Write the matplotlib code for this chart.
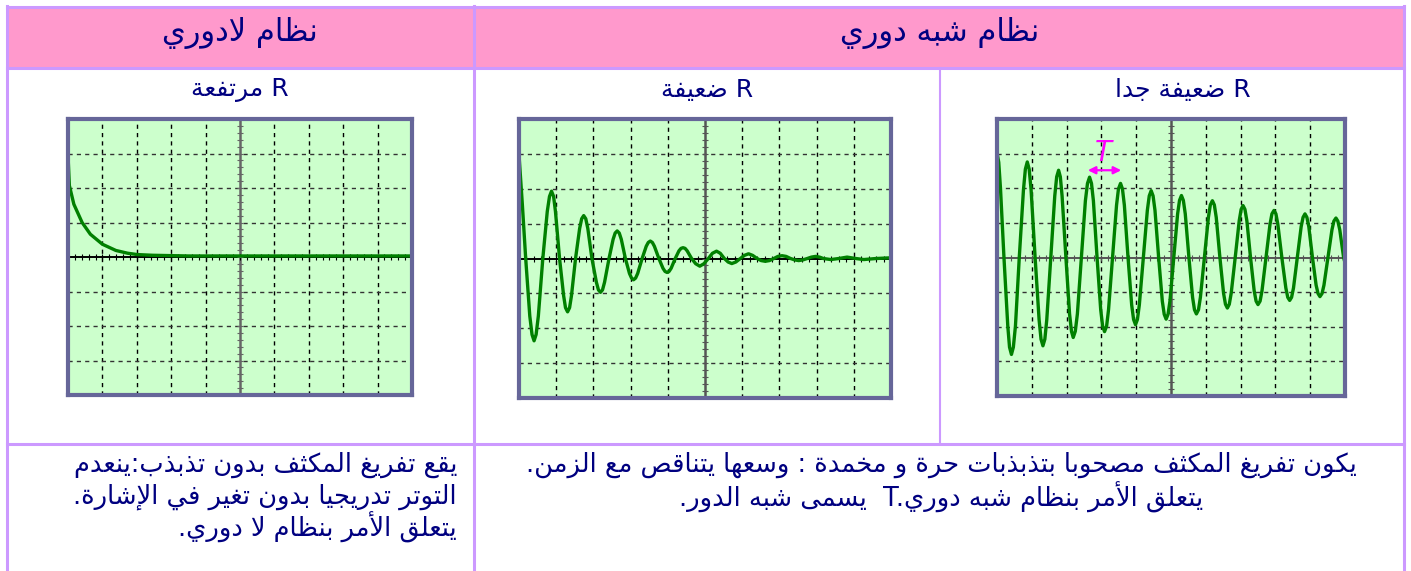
import matplotlib.pyplot as plt

W, H = 1411, 571

# ---- texts (logical order) ----
header_left = 'نظام لادوري'
header_right = 'نظام شبه دوري'
sub_titles = ['R مرتفعة', 'R ضعيفة', 'R ضعيفة جدا']
bottom_left = ['يقع تفريغ المكثف بدون تذبذب:ينعدم',
               'التوتر تدريجيا بدون تغير في الإشارة.',
               'يتعلق الأمر بنظام لا دوري.']
bottom_right = ['يكون تفريغ المكثف مصحوبا بتذبذبات حرة و مخمدة : وسعها يتناقص مع الزمن.',
                'يتعلق الأمر بنظام شبه دوري.T  يسمى شبه الدور.']

# ---- oscilloscope traces (divisions: x 0..10, y -4..4) ----
aperiodic_x = [0.0, 0.005, 0.04, 0.17, 0.41, 0.65, 1.0, 1.39, 1.73, 2.02, 2.46, 3.5, 10.0]
aperiodic_y = [4.0, 2.84, 2.07, 1.53, 1.0, 0.66, 0.37, 0.19, 0.11, 0.07, 0.05, 0.03, 0.03]

weak_x = [0.00, 0.09, 0.18, 0.29, 0.35, 0.405, 0.46, 0.52, 0.64, 0.76, 0.82, 0.874,
          0.93, 0.98, 1.09, 1.20, 1.25, 1.306, 1.36, 1.41, 1.52, 1.63, 1.685, 1.739,
          1.795, 1.85, 1.96, 2.08, 2.135, 2.19, 2.245, 2.30, 2.42, 2.53, 2.585, 2.64,
          2.695, 2.75, 2.86, 2.97, 3.025, 3.08, 3.135, 3.19, 3.31, 3.42, 3.475, 3.53,
          3.585, 3.64, 3.76, 3.87, 3.925, 3.98, 4.035, 4.09, 4.20, 4.30, 4.355, 4.41,
          4.465, 4.52, 4.64, 4.75, 4.86, 4.97, 5.09, 5.20, 5.31, 5.41, 5.52, 5.62,
          5.72, 5.83, 5.95, 6.06, 6.17, 6.28, 6.40, 6.51, 6.62, 6.73, 6.85, 6.96,
          7.07, 7.18, 7.30, 7.41, 7.52, 7.63, 7.75, 7.86, 7.97, 8.08, 8.18, 8.38,
          8.60, 8.82, 9.05, 9.27, 9.60, 10.0]
weak_y = [2.97, 1.55, 0.00, -1.65, -2.18, -2.36, -2.18, -1.65, 0.00, 1.35, 1.78, 1.93,
          1.78, 1.35, 0.00, -1.07, -1.41, -1.53, -1.41, -1.07, 0.00, 0.86, 1.14, 1.23,
          1.14, 0.86, 0.00, -0.68, -0.90, -0.97, -0.90, -0.68, 0.00, 0.55, 0.73, 0.79,
          0.73, 0.55, 0.00, -0.43, -0.56, -0.61, -0.56, -0.43, 0.00, 0.35, 0.46, 0.50,
          0.46, 0.35, 0.00, -0.28, -0.37, -0.40, -0.37, -0.28, 0.00, 0.22, 0.29, 0.31,
          0.29, 0.22, 0.00, -0.15, -0.22, -0.15, 0.00, 0.15, 0.21, 0.15, 0.00, -0.10,
          -0.145, -0.10, 0.00, 0.09, 0.135, 0.09, 0.00, -0.06, -0.08, -0.06, 0.00, 0.06,
          0.08, 0.06, 0.00, -0.04, -0.06, -0.04, 0.00, 0.04, 0.06, 0.04, 0.00, -0.03,
          0.00, 0.04, 0.00, -0.03, 0.00, 0.02]

very_weak_x = [0.00, 0.05, 0.10, 0.20, 0.31, 0.36, 0.415, 0.47, 0.53, 0.64, 0.76, 0.815,
               0.87, 0.925, 0.98, 1.095, 1.21, 1.265, 1.32, 1.375, 1.43, 1.545, 1.66, 1.715,
               1.77, 1.82, 1.87, 1.98, 2.085, 2.14, 2.19, 2.25, 2.31, 2.425, 2.54, 2.60,
               2.66, 2.715, 2.77, 2.875, 2.98, 3.035, 3.09, 3.15, 3.205, 3.32, 3.435, 3.49,
               3.55, 3.605, 3.66, 3.765, 3.87, 3.925, 3.98, 4.035, 4.09, 4.205, 4.32, 4.375,
               4.43, 4.485, 4.54, 4.645, 4.75, 4.805, 4.86, 4.915, 4.97, 5.08, 5.19, 5.245,
               5.30, 5.355, 5.41, 5.515, 5.62, 5.675, 5.73, 5.79, 5.845, 5.96, 6.075, 6.13,
               6.19, 6.245, 6.30, 6.405, 6.51, 6.565, 6.62, 6.675, 6.73, 6.845, 6.96, 7.015,
               7.07, 7.125, 7.18, 7.285, 7.39, 7.445, 7.50, 7.56, 7.615, 7.73, 7.845, 7.90,
               7.96, 8.015, 8.07, 8.185, 8.30, 8.355, 8.41, 8.465, 8.52, 8.63, 8.74, 8.795,
               8.85, 8.905, 8.96, 9.065, 9.17, 9.225, 9.28, 9.34, 9.395, 9.51, 9.625, 9.68,
               9.74, 9.795, 9.85, 9.96, 10.0]
very_weak_y = [3.03, 2.75, 2.0, 0.0, -1.98, -2.59, -2.80, -2.59, -1.98, 0.0, 1.95, 2.55,
               2.76, 2.55, 1.95, 0.0, -1.80, -2.36, -2.55, -2.36, -1.80, 0.0, 1.78, 2.33,
               2.52, 2.33, 1.78, 0.0, -1.63, -2.13, -2.31, -2.13, -1.63, 0.0, 1.64, 2.14,
               2.32, 2.14, 1.64, 0.0, -1.51, -1.98, -2.14, -1.98, -1.51, 0.0, 1.51, 1.98,
               2.14, 1.98, 1.51, 0.0, -1.37, -1.79, -1.94, -1.79, -1.37, 0.0, 1.36, 1.78,
               1.93, 1.78, 1.36, 0.0, -1.26, -1.64, -1.78, -1.64, -1.26, 0.0, 1.26, 1.65,
               1.79, 1.65, 1.26, 0.0, -1.15, -1.51, -1.63, -1.51, -1.15, 0.0, 1.16, 1.52,
               1.64, 1.52, 1.16, 0.0, -1.03, -1.35, -1.46, -1.35, -1.03, 0.0, 1.06, 1.39,
               1.50, 1.39, 1.06, 0.0, -0.96, -1.26, -1.36, -1.26, -0.96, 0.0, 0.96, 1.26,
               1.36, 1.26, 0.96, 0.0, -0.88, -1.15, -1.24, -1.15, -0.88, 0.0, 0.89, 1.16,
               1.26, 1.16, 0.89, 0.0, -0.80, -1.04, -1.13, -1.04, -0.80, 0.0, 0.80, 1.05,
               1.14, 1.05, 0.80, 0.0, -0.15]

# T arrow (divisions)
period_start, period_end, period_level = 2.61, 3.57, 2.52

NAVY = '#000080'
BORDER = '#CC99FF'
PINK = '#FF99CC'
FONT = ['DejaVu Sans']

# ---- minimal Arabic shaping (presentation forms B) ----
_letters = 'ءآأؤإئابةتثجحخدذرزسشصضطظعغفقكلمنهوىي'
_counts = [1, 2, 2, 2, 2, 4, 2, 4, 2, 4, 4, 4, 4, 4, 2, 2, 2, 2, 4, 4, 4, 4, 4, 4, 4, 4,
           4, 4, 4, 4, 4, 4, 4, 2, 2, 4]
FORMS = {}
_code = 0xFE80
for _c, _n in zip(_letters, _counts):
    FORMS[_c] = [chr(_code + k) for k in range(_n)]
    _code += _n
LAMALEF = {'آ': 0xFEF5, 'أ': 0xFEF7, 'إ': 0xFEF9, 'ا': 0xFEFB}


def shape(s):
    """shape + reverse an RTL line for display"""
    res = []
    n = len(s)
    i = 0
    while i < n:
        c = s[i]
        if c not in FORMS:
            res.append(c)
            i += 1
            continue
        prev = s[i - 1] if i > 0 else ''
        join_prev = prev in FORMS and len(FORMS[prev]) == 4
        if c == 'ل' and i + 1 < n and s[i + 1] in LAMALEF:
            res.append(chr(LAMALEF[s[i + 1]] + (1 if join_prev else 0)))
            i += 2
            continue
        nxt = s[i + 1] if i + 1 < n else ''
        forms = FORMS[c]
        join_next = len(forms) == 4 and nxt in FORMS
        if len(forms) == 1:
            f = forms[0]
        elif join_prev and join_next:
            f = forms[3]
        elif join_prev:
            f = forms[1]
        elif join_next:
            f = forms[2]
        else:
            f = forms[0]
        res.append(f)
        i += 1
    return ''.join(reversed(res))


def draw_table(ax):
    """table frame in pixel coords"""
    ax.add_patch(plt.Rectangle((7, 7), 1397, 60, color=PINK, lw=0))
    lw = 2.2
    ax.plot([7, 1404], [6.5, 6.5], color=BORDER, lw=lw)
    ax.plot([7, 1404], [67.5, 67.5], color=BORDER, lw=lw)
    ax.plot([7, 1404], [443.5, 443.5], color=BORDER, lw=lw)
    for x in [7, 473.5, 1404]:
        ax.plot([x, x], [6, H], color=BORDER, lw=lw)
    ax.plot([940, 940], [67.5, 443.5], color=BORDER, lw=1.5)


def draw_scope(fig, box, xs, ys, vcolor, hcolor):
    l, t, r, b = box
    ax = fig.add_axes([l / W, 1 - b / H, (r - l) / W, (b - t) / H])
    ax.set_facecolor('#CCFFCC')
    ax.set_xlim(0, 10)
    ax.set_ylim(-4, 4)
    for x in range(1, 10):
        if x != 5:
            ax.axvline(x, color='black', lw=1, ls=(0, (3, 3)))
    for y in range(-3, 4):
        if y != 0:
            ax.axhline(y, color='#333333', lw=1, ls=(0, (3, 3)))
    ax.axvline(5, color=vcolor, lw=1.8)
    ax.axhline(0, color=hcolor, lw=1.4)
    hm = [k * 0.2 for k in range(1, 50)]
    ax.plot(hm, [0] * len(hm), ls='none', marker='|', ms=4, mew=0.8, color=hcolor)
    vm = [k * 0.2 - 4 for k in range(1, 40)]
    ax.plot([5] * len(vm), vm, ls='none', marker='_', ms=4, mew=0.8, color=vcolor)
    ax.plot(xs, ys, color='#008000', lw=2.4, solid_joinstyle='round')
    for sp in ax.spines.values():
        sp.set_color('#666699')
        sp.set_linewidth(3)
    ax.set_xticks([])
    ax.set_yticks([])
    return ax


def main():
    fig = plt.figure(figsize=(W / 100, H / 100), dpi=100)
    ax0 = fig.add_axes([0, 0, 1, 1])
    ax0.set_xlim(0, W)
    ax0.set_ylim(H, 0)
    ax0.axis('off')

    draw_table(ax0)

    # headers
    ax0.text(240, 33, shape(header_left), ha='center', va='center',
             fontsize=22, color=NAVY, family=FONT)
    ax0.text(940, 33, shape(header_right), ha='center', va='center',
             fontsize=22, color=NAVY, family=FONT)

    # sub titles
    for x, s in zip([240, 707, 1183], sub_titles):
        ax0.text(x, 90, shape(s), ha='center', va='center',
                 fontsize=18, color=NAVY, family=FONT)

    # bottom texts
    for y, s in zip([465, 497, 527], bottom_left):
        ax0.text(457, y, shape(s), ha='right', va='center',
                 fontsize=18.5, color=NAVY, family=FONT)
    for y, s in zip([465, 497], bottom_right):
        ax0.text(941, y, shape(s), ha='center', va='center',
                 fontsize=18.5, color=NAVY, family=FONT)

    # scopes
    draw_scope(fig, (68, 119, 412, 395), aperiodic_x, aperiodic_y, '#666666', 'black')
    draw_scope(fig, (519, 119, 891, 398), weak_x, weak_y, '#555555', 'black')
    ax3 = draw_scope(fig, (997, 119, 1345, 396), very_weak_x, very_weak_y,
                     '#555555', '#555555')
    ax3.annotate('', xy=(period_start, period_level), xytext=(period_end, period_level),
                 arrowprops=dict(arrowstyle='<|-|>', color='#FF00FF', lw=1.6,
                                 mutation_scale=11, shrinkA=0, shrinkB=0))
    ax3.text((period_start + period_end) / 2, period_level + 0.1, '$T$',
             ha='center', va='bottom', fontsize=20, color='#FF00FF')

    fig.savefig('out.png', dpi=100)


if __name__ == '__main__':
    main()
